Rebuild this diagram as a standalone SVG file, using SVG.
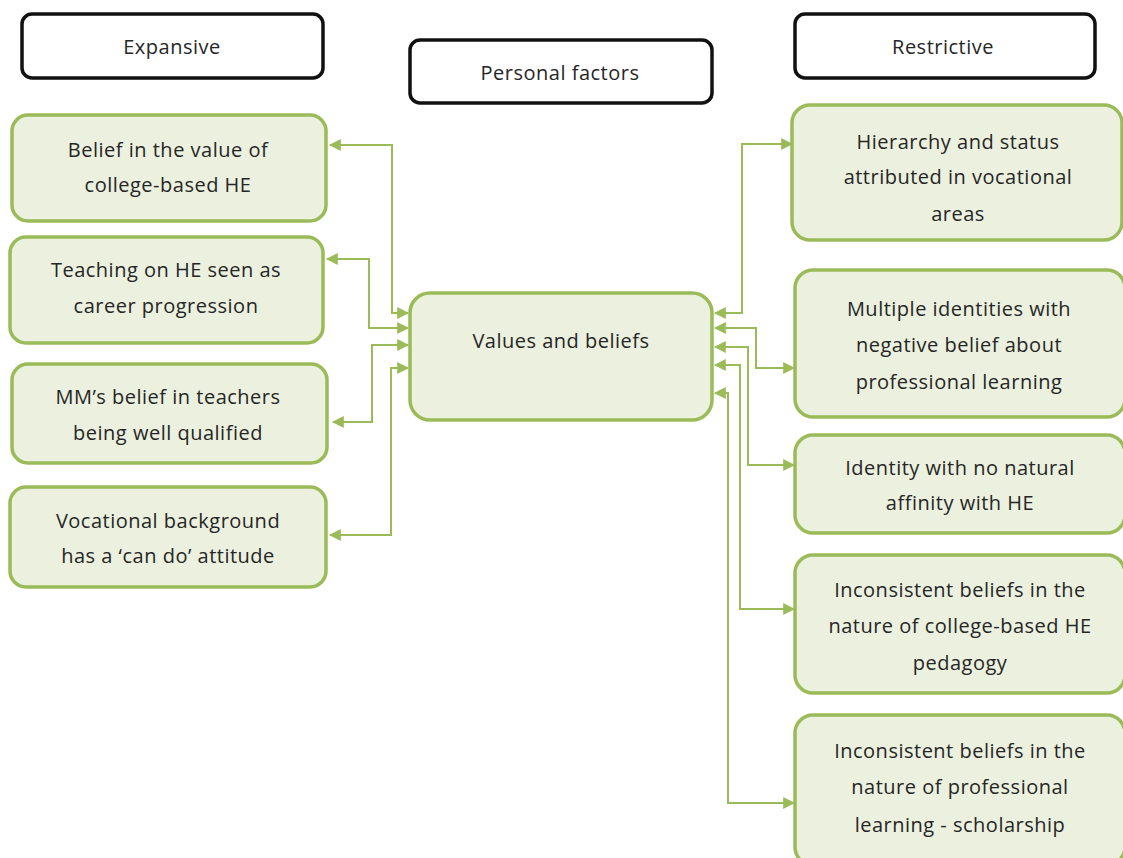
<svg xmlns="http://www.w3.org/2000/svg" width="1123" height="858" viewBox="0 0 1123 858">
  <style>
    .hdr rect { fill: #ffffff; stroke: #111111; stroke-width: 3.5; }
    .box rect { fill: #ebf1de; stroke: #9bbb59; stroke-width: 3.5; }
    text { font-family: "Open Sans", "Noto Sans", sans-serif; font-size: 20px; letter-spacing: 0.5px; fill: #262626; text-anchor: middle; }
    .conn path { fill: none; stroke: #9bbb59; stroke-width: 2; }
  </style>
  <defs>
    <marker id="arr" viewBox="0 0 10 10" refX="9" refY="5" markerWidth="6" markerHeight="6" orient="auto-start-reverse" markerUnits="strokeWidth">
      <path d="M0,0 L10,5 L0,10 z" fill="#9bbb59"/>
    </marker>
  </defs>

  <!-- column headers -->
  <g id="expansive" class="hdr">
    <rect x="22" y="14" width="301" height="64" rx="10"/>
    <text x="172" y="54">Expansive</text>
  </g>
  <g id="personal-factors" class="hdr">
    <rect x="410" y="40" width="302" height="63" rx="10"/>
    <text x="560" y="80">Personal factors</text>
  </g>
  <g id="restrictive" class="hdr">
    <rect x="795" y="14" width="300" height="64" rx="10"/>
    <text x="943" y="54">Restrictive</text>
  </g>

  <!-- central node -->
  <g id="values-beliefs" class="box">
    <rect x="410" y="293" width="302" height="127" rx="20"/>
    <text x="561" y="348">Values and beliefs</text>
  </g>

  <!-- expansive factors -->
  <g id="exp-1" class="box">
    <rect x="12" y="115" width="314" height="106" rx="16"/>
    <text x="168" y="157">Belief in the value of</text>
    <text x="168" y="192">college-based HE</text>
  </g>
  <g id="exp-2" class="box">
    <rect x="10" y="237" width="313" height="106" rx="16"/>
    <text x="166" y="277">Teaching on HE seen as</text>
    <text x="166" y="313">career progression</text>
  </g>
  <g id="exp-3" class="box">
    <rect x="12" y="364" width="315" height="99" rx="16"/>
    <text x="168" y="404">MM’s belief in teachers</text>
    <text x="168" y="440">being well qualified</text>
  </g>
  <g id="exp-4" class="box">
    <rect x="10" y="487" width="316" height="100" rx="16"/>
    <text x="168" y="528">Vocational background</text>
    <text x="168" y="563">has a ‘can do’ attitude</text>
  </g>

  <!-- restrictive factors -->
  <g id="res-1" class="box">
    <rect x="792" y="105" width="330" height="135" rx="18"/>
    <text x="958" y="149">Hierarchy and status</text>
    <text x="958" y="184">attributed in vocational</text>
    <text x="958" y="221">areas</text>
  </g>
  <g id="res-2" class="box">
    <rect x="795" y="270" width="330" height="147" rx="18"/>
    <text x="959" y="316">Multiple identities with</text>
    <text x="959" y="352">negative belief about</text>
    <text x="959" y="389">professional learning</text>
  </g>
  <g id="res-3" class="box">
    <rect x="795" y="435" width="330" height="98" rx="18"/>
    <text x="960" y="475">Identity with no natural</text>
    <text x="960" y="510">affinity with HE</text>
  </g>
  <g id="res-4" class="box">
    <rect x="795" y="555" width="330" height="138" rx="18"/>
    <text x="960" y="597">Inconsistent beliefs in the</text>
    <text x="960" y="633">nature of college-based HE</text>
    <text x="960" y="670">pedagogy</text>
  </g>
  <g id="res-5" class="box">
    <rect x="795" y="715" width="330" height="150" rx="18"/>
    <text x="960" y="758">Inconsistent beliefs in the</text>
    <text x="960" y="794">nature of professional</text>
    <text x="960" y="832">learning - scholarship</text>
  </g>

  <!-- connectors -->
  <g id="connectors" class="conn">
    <path d="M408,313 H392 V145 H330" marker-start="url(#arr)" marker-end="url(#arr)"/>
    <path d="M408,328 H369 V259 H327" marker-start="url(#arr)" marker-end="url(#arr)"/>
    <path d="M408,345 H372 V422 H333" marker-start="url(#arr)" marker-end="url(#arr)"/>
    <path d="M408,368 H391 V535 H330" marker-start="url(#arr)" marker-end="url(#arr)"/>

    <path d="M715,313 H742 V144 H792" marker-start="url(#arr)" marker-end="url(#arr)"/>
    <path d="M715,328 H756 V368 H794" marker-start="url(#arr)" marker-end="url(#arr)"/>
    <path d="M715,347 H748 V465 H794" marker-start="url(#arr)" marker-end="url(#arr)"/>
    <path d="M715,365 H740 V609 H794" marker-start="url(#arr)" marker-end="url(#arr)"/>
    <path d="M715,393 H728 V803 H794" marker-start="url(#arr)" marker-end="url(#arr)"/>
  </g>
</svg>
